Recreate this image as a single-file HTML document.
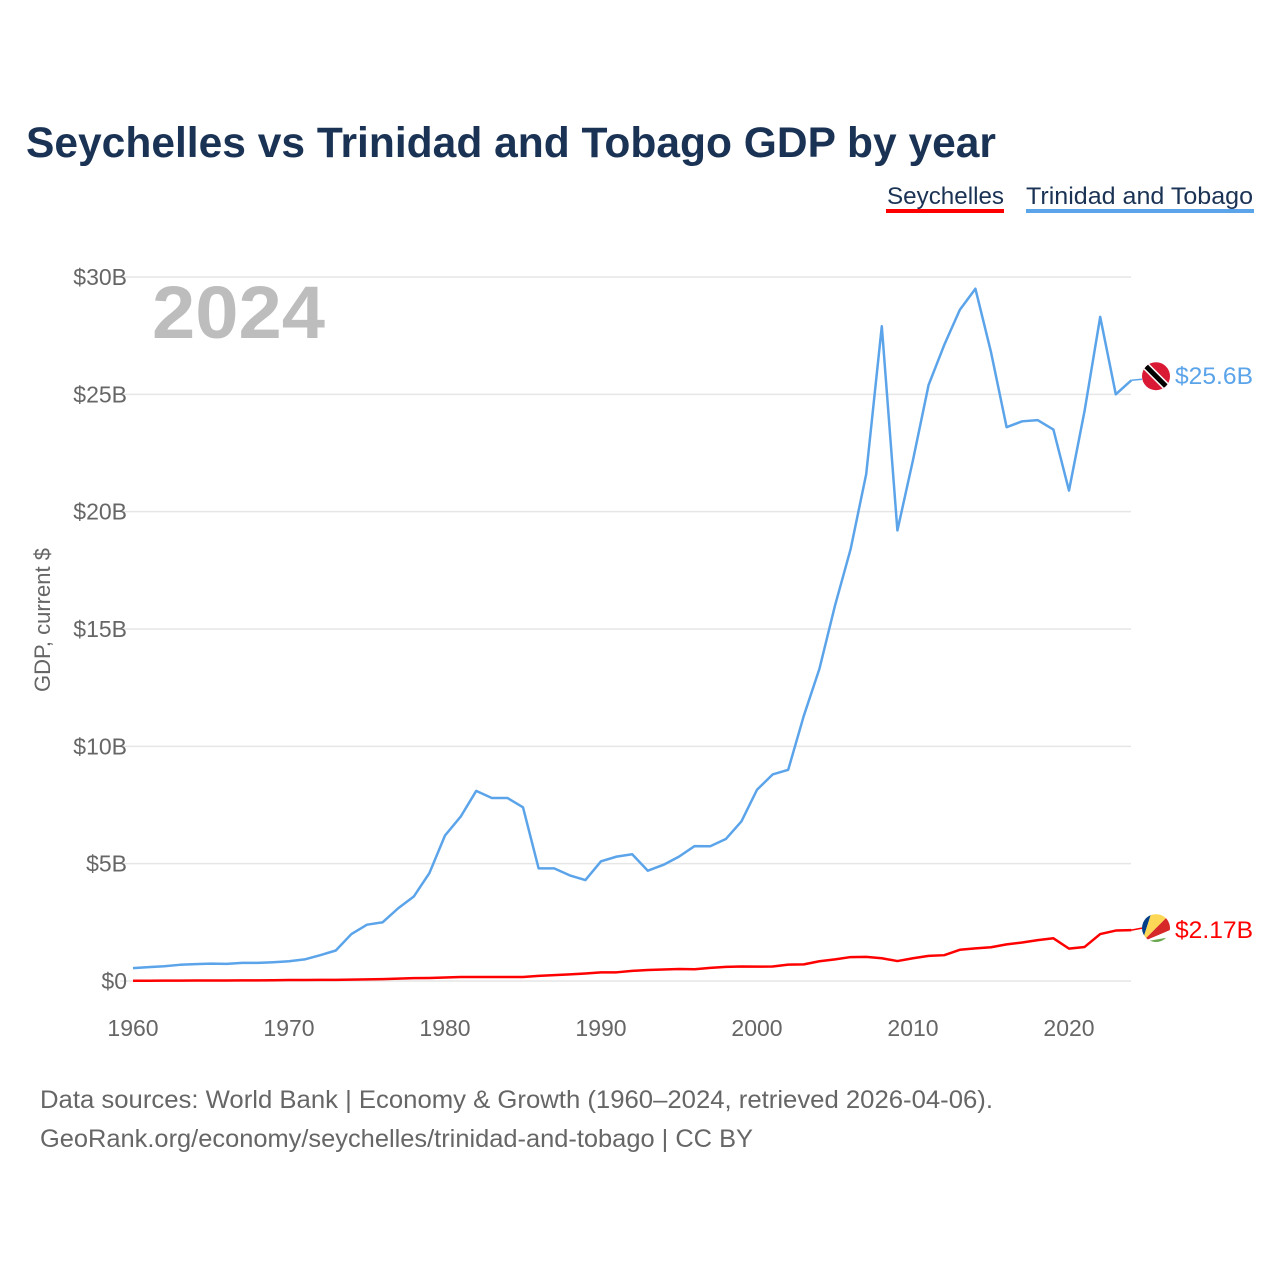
<!DOCTYPE html>
<html><head><meta charset="utf-8"><style>
body{margin:0;background:#fff;width:1280px;height:1280px;overflow:hidden;font-family:"Liberation Sans",sans-serif}
</style></head><body>
<svg width="1280" height="1280" viewBox="0 0 1280 1280" id="chart" font-family="Liberation Sans, sans-serif">
<text x="26" y="157" font-size="43" font-weight="bold" fill="#1a3355" textLength="970" lengthAdjust="spacingAndGlyphs">Seychelles vs Trinidad and Tobago GDP by year</text>
<g>
<text x="887" y="204" font-size="24" fill="#1a3355" textLength="117" lengthAdjust="spacingAndGlyphs">Seychelles</text>
<rect x="886" y="209" width="118" height="4" fill="#ff0000"/></g>
<g>
<text x="1026" y="204" font-size="24" fill="#1a3355" textLength="227" lengthAdjust="spacingAndGlyphs">Trinidad and Tobago</text>
<rect x="1026" y="209" width="228" height="4" fill="#5ba4ea"/></g>
<text x="152" y="338" font-size="74" font-weight="bold" fill="#bdbdbd" textLength="173" lengthAdjust="spacingAndGlyphs">2024</text>
<text transform="translate(50,620) rotate(-90)" text-anchor="middle" font-size="22" fill="#666">GDP, current $</text>
<g id="grid"></g><g id="lines"></g>
<text x="40" y="1108" font-size="25" fill="#666" textLength="953" lengthAdjust="spacingAndGlyphs">Data sources: World Bank | Economy &amp; Growth (1960–2024, retrieved 2026-04-06).</text>
<text x="40" y="1147" font-size="25" fill="#666" textLength="713" lengthAdjust="spacingAndGlyphs">GeoRank.org/economy/seychelles/trinidad-and-tobago | CC BY</text>
</svg>
<script>
const years=[];for(let y=1960;y<=2024;y++)years.push(y);
const tt=[0.55,0.59,0.63,0.69,0.72,0.74,0.73,0.77,0.77,0.8,0.84,0.92,1.1,1.3,2.0,2.4,2.5,3.1,3.6,4.6,6.2,7.0,8.1,7.8,7.8,7.4,4.8,4.8,4.5,4.3,5.1,5.3,5.4,4.7,4.95,5.3,5.75,5.74,6.05,6.8,8.15,8.8,9.0,11.3,13.3,16.0,18.4,21.6,27.9,19.2,22.2,25.4,27.1,28.6,29.5,26.8,23.6,23.85,23.9,23.5,20.9,24.3,28.3,25.0,25.6];
const sc=[0.01,0.01,0.015,0.015,0.02,0.02,0.02,0.025,0.025,0.03,0.04,0.04,0.05,0.05,0.06,0.07,0.08,0.1,0.12,0.13,0.15,0.17,0.17,0.17,0.17,0.17,0.22,0.25,0.28,0.32,0.37,0.37,0.43,0.47,0.49,0.51,0.5,0.56,0.6,0.62,0.61,0.62,0.7,0.71,0.84,0.92,1.02,1.03,0.97,0.85,0.97,1.07,1.1,1.33,1.39,1.44,1.56,1.64,1.74,1.82,1.38,1.45,2.0,2.15,2.17];
const yTicks=[0,5,10,15,20,25,30];
const yTickLabels=["$0","$5B","$10B","$15B","$20B","$25B","$30B"];
const xTicks=[1960,1970,1980,1990,2000,2010,2020];
const NS="http://www.w3.org/2000/svg";
const X=y=>133+(y-1960)*15.6, Y=v=>981-v*23.467;
const grid=document.getElementById('grid'),lines=document.getElementById('lines');
function mk(tag,attrs,parent){const e=document.createElementNS(NS,tag);for(const k in attrs)e.setAttribute(k,attrs[k]);parent.appendChild(e);return e;}
yTicks.forEach((v,i)=>{
 const l=mk('line',{x1:120,x2:1131,y1:Y(v),y2:Y(v),stroke:'#e6e6e6','stroke-width':1.5},grid);
 
 
 const t=mk('text',{x:127,y:Y(v)+8,'text-anchor':'end','font-size':23,fill:'#666'},grid);t.textContent=yTickLabels[i];
 
 
});
xTicks.forEach(y=>{const t=mk('text',{x:X(y),y:1036,'text-anchor':'middle','font-size':23,fill:'#666'},grid);t.textContent=y;
 
 });
function series(d,c,name){const p=mk('polyline',{points:d.map((v,i)=>X(years[i])+','+Y(v)).join(' '),fill:'none',stroke:c,'stroke-width':2.5,'stroke-linejoin':'round'},lines);
 
 }
series(sc,'#ff0000','seychelles-line');series(tt,'#5ba4ea','trinidad-line');
const lt=tt[tt.length-1],ls=sc[sc.length-1];
const g1=mk('g',{},lines);
mk('line',{x1:X(2024),y1:Y(lt),x2:1142,y2:Y(lt)-1,stroke:'#5ba4ea','stroke-width':1.5},g1);
const cp1=mk('clipPath',{id:'c1'},g1);mk('circle',{cx:1156,cy:Y(lt)-4,r:14},cp1);
mk('circle',{cx:1156,cy:Y(lt)-4,r:14,fill:'#da1a35'},g1);
mk('line',{x1:1144,y1:Y(lt)-16,x2:1168,y2:Y(lt)+8,stroke:'#fff','stroke-width':8,'clip-path':'url(#c1)'},g1);
mk('line',{x1:1144,y1:Y(lt)-16,x2:1168,y2:Y(lt)+8,stroke:'#000','stroke-width':5,'clip-path':'url(#c1)'},g1);
const t1=mk('text',{x:1175,y:Y(lt)+4,'font-size':24,fill:'#5ba4ea',textLength:78,lengthAdjust:'spacingAndGlyphs'},lines);t1.textContent='$25.6B';

const g2=mk('g',{},lines);
const cy=Y(ls)-2;
mk('line',{x1:X(2024),y1:Y(ls),x2:1142,y2:cy,stroke:'#ff0000','stroke-width':1.5},g2);
const cp=mk('clipPath',{id:'c2'},g2);mk('circle',{cx:1156,cy:cy,r:14},cp);
const bx=1142,by=cy+14;
[['#003f87',[bx,by-28,bx+9,by-28]],['#fcd856',[bx+9,by-28,bx+28,by-28]],['#d62828',[bx+28,by-28,bx+28,by-12]],['#fff',[bx+28,by-12,bx+28,by-5]],['#6aa84f',[bx+28,by-5,bx+28,by]]].forEach(([c,pp])=>{
 mk('polygon',{points:`${bx},${by} ${pp[0]},${pp[1]} ${pp[2]},${pp[3]}`,fill:c,'clip-path':'url(#c2)'},g2);});
const t2=mk('text',{x:1175,y:cy+10,'font-size':24,fill:'#ff0000',textLength:78,lengthAdjust:'spacingAndGlyphs'},lines);t2.textContent='$2.17B';

</script>
</body></html>
